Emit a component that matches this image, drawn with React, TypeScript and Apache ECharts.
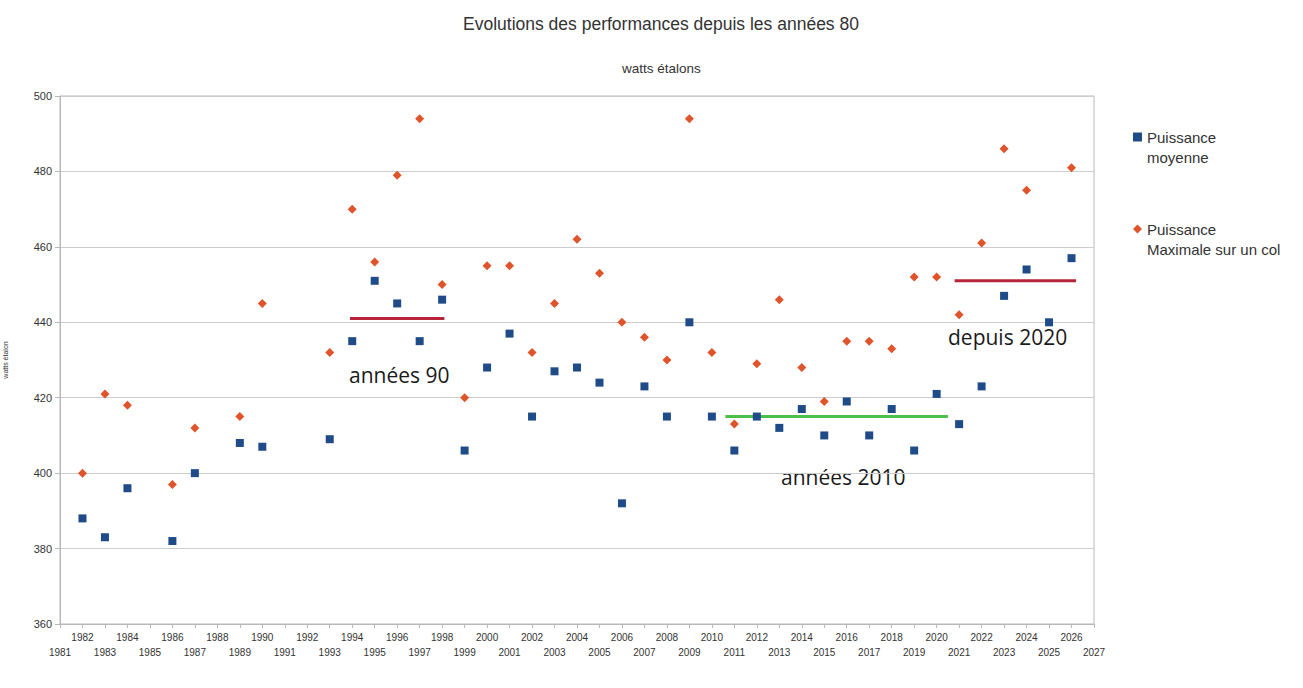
import React, { useEffect, useRef } from "react";
import * as echarts from "echarts";

const moyenneYears = [1982, 1983, 1984, 1986, 1987, 1989, 1990, 1993, 1994, 1995, 1996, 1997, 1998, 1999, 2000, 2001, 2002, 2003, 2004, 2005, 2006, 2007, 2008, 2009, 2010, 2011, 2012, 2013, 2014, 2015, 2016, 2017, 2018, 2019, 2020, 2021, 2022, 2023, 2024, 2025, 2026];
const moyenneValues = [388, 383, 396, 382, 400, 408, 407, 409, 435, 451, 445, 435, 446, 406, 428, 437, 415, 427, 428, 424, 392, 423, 415, 440, 415, 406, 415, 412, 417, 410, 419, 410, 417, 406, 421, 413, 423, 447, 454, 440, 457];

const maxYears = [1982, 1983, 1984, 1986, 1987, 1989, 1990, 1993, 1994, 1995, 1996, 1997, 1998, 1999, 2000, 2001, 2002, 2003, 2004, 2005, 2006, 2007, 2008, 2009, 2010, 2011, 2012, 2013, 2014, 2015, 2016, 2017, 2018, 2019, 2020, 2021, 2022, 2023, 2024, 2026];
const maxValues = [400, 421, 418, 397, 412, 415, 445, 432, 470, 456, 479, 494, 450, 420, 455, 455, 432, 445, 462, 453, 440, 436, 430, 494, 432, 413, 429, 446, 428, 419, 435, 435, 433, 452, 452, 442, 461, 486, 475, 481];

// annotation segments: [startYear, endYear, value]
const seg90 = [1993.9, 1998.1, 441];
const seg2010 = [2010.6, 2020.5, 415];
const seg2020 = [2020.8, 2026.2, 451];

const SERIES_MOY = "Puissance\nmoyenne";
const SERIES_MAX = "Puissance\nMaximale sur un col";

const pair = (xs: number[], ys: number[]) => xs.map((x, i) => [x, ys[i]]);
const segData = (s: number[]) => [[s[0], s[2]], [s[1], s[2]]];

export default function App() {
  const ref = useRef<HTMLDivElement>(null);
  useEffect(() => {
    if (!ref.current) return;
    const chart = echarts.init(ref.current, undefined, { renderer: "svg" });
    const font = "Liberation Sans, Arial, sans-serif";
    const annFont = "Open Sans, Noto Sans, sans-serif";
    chart.setOption({
      animation: false,
      backgroundColor: "#ffffff",
      title: [
        {
          text: "Evolutions des performances depuis les années 80",
          left: 463,
          top: 15,
          padding: 0,
          textStyle: { fontFamily: font, fontSize: 17.5, fontWeight: "normal", color: "#333333" },
        },
        {
          text: "watts étalons",
          left: 622,
          top: 61,
          padding: 0,
          textStyle: { fontFamily: font, fontSize: 13.5, fontWeight: "normal", color: "#333333" },
        },
      ],
      legend: {
        orient: "vertical",
        left: 1133,
        top: 107,
        padding: 0,
        itemWidth: 9,
        itemHeight: 9,
        itemGap: 32,
        selectedMode: false,
        formatter: (n: string) => "\u00a0\n" + n,
        textStyle: { fontFamily: font, fontSize: 15, lineHeight: 20, color: "#333333" },
        data: [
          { name: SERIES_MOY, icon: "rect" },
          { name: SERIES_MAX, icon: "diamond" },
        ],
      },
      grid: {
        left: 60,
        right: 209,
        top: 96,
        bottom: 64,
        containLabel: false,
        outerBoundsMode: "none",
        show: true,
        borderColor: "#b8b8b8",
        borderWidth: 1,
      },
      xAxis: {
        type: "value",
        min: 1981,
        max: 2027,
        interval: 1,
        axisLine: { show: true, lineStyle: { color: "#b8b8b8" } },
        axisTick: { show: true, length: 4, lineStyle: { color: "#b8b8b8" } },
        splitLine: { show: false },
        axisLabel: {
          fontFamily: font,
          fontSize: 10,
          color: "#333333",
          lineHeight: 15,
          margin: 6,
          formatter: (v: number) => (v % 2 === 0 ? String(v) : "\n" + v),
        },
      },
      yAxis: {
        type: "value",
        min: 360,
        max: 500,
        interval: 20,
        name: "watts étalon",
        nameLocation: "middle",
        nameRotate: 90,
        nameGap: 51,
        nameTextStyle: { fontFamily: font, fontSize: 7, color: "#333333" },
        axisLine: { show: true, lineStyle: { color: "#b8b8b8" } },
        axisTick: { show: true, length: 5, lineStyle: { color: "#b8b8b8" } },
        splitLine: { show: true, lineStyle: { color: "#cccccc" } },
        axisLabel: { fontFamily: font, fontSize: 11, color: "#333333", margin: 8 },
      },
      series: [
        {
          name: "années 90",
          type: "line",
          data: segData(seg90),
          symbol: "none",
          lineStyle: { color: "#b8243c", width: 3 },
          z: 1,
        },
        {
          name: "années 2010",
          type: "line",
          data: segData(seg2010),
          symbol: "none",
          lineStyle: { color: "#4cbe4c", width: 3 },
          z: 1,
        },
        {
          name: "depuis 2020",
          type: "line",
          data: segData(seg2020),
          symbol: "none",
          lineStyle: { color: "#b8243c", width: 3 },
          z: 1,
        },
        {
          name: SERIES_MOY,
          type: "scatter",
          symbol: "rect",
          symbolSize: 8,
          itemStyle: { color: "#1f4c88", opacity: 1 },
          data: pair(moyenneYears, moyenneValues),
          z: 3,
        },
        {
          name: SERIES_MAX,
          type: "scatter",
          symbol: "diamond",
          symbolSize: 9,
          itemStyle: { color: "#e0542c", opacity: 1 },
          data: pair(maxYears, maxValues),
          z: 3,
        },
      ],
      graphic: [
        {
          type: "text",
          left: 349,
          top: 364,
          style: { text: "années 90", font: `21px ${annFont}`, fill: "#1a1a1a" },
        },
        {
          type: "text",
          left: 781,
          top: 466,
          style: { text: "années 2010", font: `21px ${annFont}`, fill: "#1a1a1a" },
        },
        {
          type: "text",
          left: 948,
          top: 326,
          style: { text: "depuis 2020", font: `21px ${annFont}`, fill: "#1a1a1a" },
        },
      ],
    });
    return () => chart.dispose();
  }, []);
  return <div ref={ref} style={{ width: 1303, height: 688, position: "fixed", left: 0, top: 0 }} />;
}
